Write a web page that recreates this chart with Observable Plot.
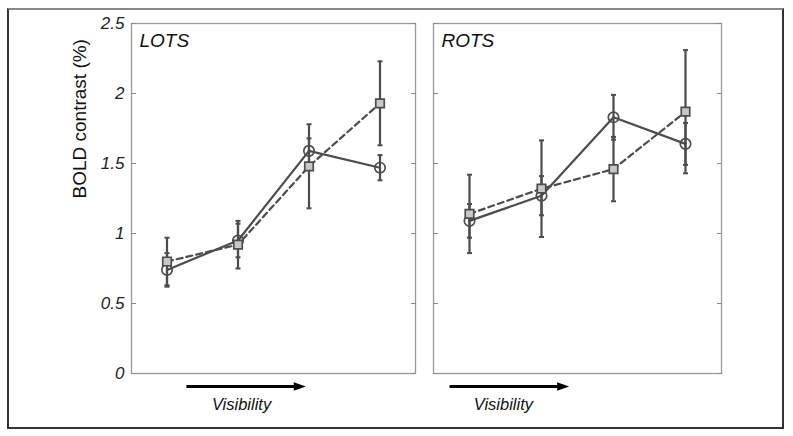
<!DOCTYPE html>
<html><head><meta charset="utf-8">
<script src="https://cdn.jsdelivr.net/npm/d3@7"></script>
<script src="https://cdn.jsdelivr.net/npm/@observablehq/plot@0.6"></script>
<style>
body{margin:0;background:#fff;font-family:"Liberation Sans",Arial,sans-serif;}
#wrap{position:relative;width:793px;height:436px;overflow:hidden;background:#fff;}
#frame{position:absolute;left:7px;top:8px;width:773px;height:417px;border:2px solid #333;border-top-color:#888;}
#left{position:absolute;left:0;top:0;}
#right{position:absolute;left:428px;top:0;}
</style></head><body>
<div id="wrap"><div id="frame"></div><div id="left"></div><div id="right"></div></div>
<script>
// ---- data ----
const visibility = [1, 2, 3, 4];
const yTicks = [0, 0.5, 1, 1.5, 2, 2.5];
const panelNames = ["LOTS", "ROTS"];
const lotsCircle = [0.74, 0.95, 1.59, 1.47];
const lotsCircleErr = [0.12, 0.12, 0.09, 0.09];
const lotsSquare = [0.80, 0.92, 1.48, 1.93];
const lotsSquareErr = [0.17, 0.17, 0.30, 0.30];
const rotsCircle = [1.09, 1.27, 1.83, 1.64];
const rotsCircleErr = [0.12, 0.14, 0.16, 0.15];
const rotsSquare = [1.14, 1.32, 1.46, 1.87];
const rotsSquareErr = [0.28, 0.345, 0.23, 0.44];
const yLabel = "BOLD contrast (%)";
const xLabel = "Visibility";

// annotation placement (x in data units)
const lotsArrow = {from: 1.28, to: 2.87, label: 2.05};
const rotsArrow = {from: 0.73, to: 2.30, label: 1.47};

const rows = (vals, errs) => visibility.map((v, i) => ({v, y: vals[i], lo: vals[i] - errs[i], hi: vals[i] + errs[i]}));

const capSymbol = {draw(ctx) { ctx.moveTo(-2.5, 0); ctx.lineTo(2.5, 0); }};
const headSymbol = {draw(ctx) { ctx.moveTo(6, 0); ctx.lineTo(-6, -4.2); ctx.lineTo(-6, 4.2); ctx.closePath(); }};

const ink = "#4c4c4c";

function panel({title, circles, squares, width, marginLeft, marginRight, labels, arrow}) {
  const marks = [
    Plot.frame({stroke: "#9a9a9a", strokeWidth: 1.3}),
    Plot.axisY(yTicks, {anchor: "left", tickSize: -5, tickPadding: 12, label: null,
      tickFormat: labels ? (d => d3.format("")(d)) : (() => ""),
      fontSize: 17, fontStyle: "italic", stroke: "#8a8a8a", color: "#222"}),
    Plot.axisY(yTicks, {anchor: "right", tickSize: -5, label: null, tickFormat: () => "", stroke: "#8a8a8a"})
  ];
  for (const d of [squares, circles]) {
    marks.push(
      Plot.ruleX(d, {x: "v", y1: "lo", y2: "hi", stroke: ink, strokeWidth: 2.2}),
      Plot.dot(d, {x: "v", y: "lo", symbol: capSymbol, fill: "none", stroke: ink, strokeWidth: 2}),
      Plot.dot(d, {x: "v", y: "hi", symbol: capSymbol, fill: "none", stroke: ink, strokeWidth: 2})
    );
  }
  marks.push(
    Plot.lineY(squares, {x: "v", y: "y", stroke: ink, strokeWidth: 2.2, strokeDasharray: "6,4"}),
    Plot.lineY(circles, {x: "v", y: "y", stroke: ink, strokeWidth: 2.2}),
    Plot.dot(circles, {x: "v", y: "y", symbol: "circle", r: 5.2, fill: "none", stroke: ink, strokeWidth: 1.7}),
    Plot.dot(squares, {x: "v", y: "y", symbol: "square", r: 4.8, fill: "#c8c8c8", stroke: ink, strokeWidth: 1.7}),
    Plot.text([title], {frameAnchor: "top-left", dx: 8, dy: 10, text: d => d, fontSize: 19, fontStyle: "italic", textAnchor: "start", lineAnchor: "top", fill: "#111"}),
    Plot.ruleY([arrow], {y: () => 0, x1: "from", x2: "to", dy: 13, stroke: "#000", strokeWidth: 3}),
    Plot.dot([arrow], {x: "to", y: () => 0, dy: 13, symbol: headSymbol, fill: "#000", stroke: "none"}),
    Plot.text([arrow], {x: "label", y: () => 0, dy: 31, text: () => xLabel, fontSize: 16.5, fontStyle: "italic", fill: "#111"})
  );
  if (labels) {
    marks.push(Plot.text([yLabel], {frameAnchor: "left", dx: -52, rotate: -90, text: d => d, fontSize: 19, fill: "#111"}));
  }
  return Plot.plot({
    width, height: 436,
    marginLeft, marginRight, marginTop: 23, marginBottom: 63,
    style: {fontFamily: "'Liberation Sans', Arial, sans-serif", background: "transparent", overflow: "visible"},
    x: {domain: [0.5, 4.5], axis: null},
    y: {domain: [0, 2.5], axis: null},
    marks
  });
}

document.getElementById("left").append(panel({
  title: panelNames[0], circles: rows(lotsCircle, lotsCircleErr), squares: rows(lotsSquare, lotsSquareErr),
  width: 420, marginLeft: 131, marginRight: 5, labels: true, arrow: lotsArrow
}));
document.getElementById("right").append(panel({
  title: panelNames[1], circles: rows(rotsCircle, rotsCircleErr), squares: rows(rotsSquare, rotsSquareErr),
  width: 300, marginLeft: 5, marginRight: 7, labels: false, arrow: rotsArrow
}));
</script>
</body></html>
